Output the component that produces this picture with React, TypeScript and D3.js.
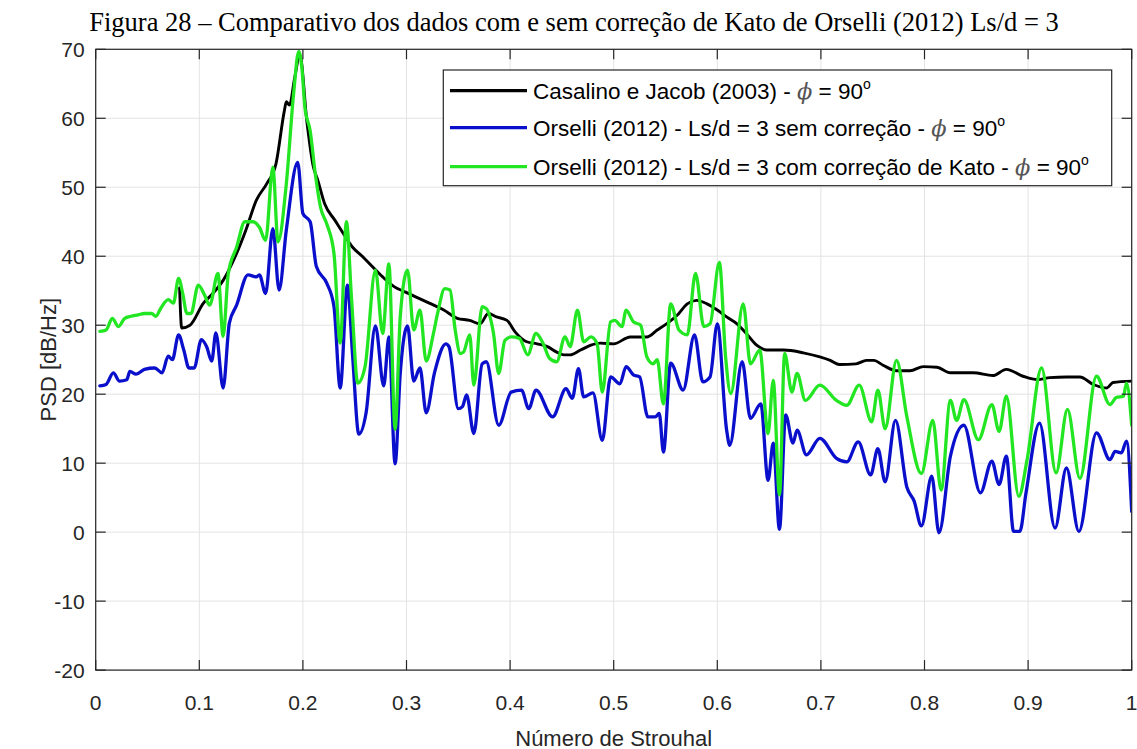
import React from "react";
import * as d3 from "d3";

// Casalino e Jacob (2003) - phi = 90°
const casalino: [number, number][] = [
  [0.081, 35.4], [0.083, 29.6], [0.091, 30.0], [0.104, 33.2], [0.113, 34.6], [0.123, 36.5],
  [0.136, 40.4], [0.145, 43.8], [0.155, 48.1], [0.165, 50.5], [0.174, 53.4], [0.182, 61.0],
  [0.184, 62.4], [0.187, 61.9], [0.192, 65.8], [0.197, 69.2], [0.204, 59.3], [0.210, 53.0],
  [0.214, 51.2], [0.221, 47.6], [0.231, 45.2], [0.239, 43.3], [0.248, 41.3], [0.258, 39.9],
  [0.267, 38.5], [0.277, 37.0], [0.288, 35.6], [0.299, 34.8], [0.312, 33.9], [0.322, 33.2],
  [0.336, 32.2], [0.349, 31.0], [0.361, 30.7], [0.371, 30.2], [0.379, 31.7], [0.387, 31.2],
  [0.397, 30.7], [0.405, 29.0], [0.416, 27.6], [0.426, 27.3], [0.436, 26.9], [0.445, 26.1],
  [0.452, 25.7], [0.458, 25.7], [0.468, 26.4], [0.478, 27.1], [0.487, 27.4], [0.500, 27.3],
  [0.516, 28.3], [0.532, 28.3], [0.542, 29.3], [0.551, 30.2], [0.561, 31.4], [0.571, 33.1],
  [0.580, 33.6], [0.590, 33.1], [0.600, 32.2], [0.609, 31.2], [0.619, 30.2], [0.628, 28.8],
  [0.638, 27.1], [0.648, 26.4], [0.664, 26.4], [0.683, 26.0], [0.699, 25.4], [0.709, 24.9],
  [0.718, 24.3], [0.734, 24.4], [0.744, 24.9], [0.751, 24.9], [0.760, 24.2], [0.773, 23.4],
  [0.786, 23.4], [0.799, 24.0], [0.812, 23.9], [0.825, 23.1], [0.834, 23.1], [0.847, 23.1],
  [0.866, 22.7], [0.879, 23.6], [0.895, 22.6], [0.909, 22.1], [0.921, 22.4], [0.937, 22.5],
  [0.950, 22.5], [0.963, 21.4], [0.976, 20.9], [0.982, 21.7], [1.000, 21.9],
];

// Orselli (2012) - Ls/d = 3 sem correção
const semCorrecao: [number, number][] = [
  [0.004, 21.2], [0.010, 21.4], [0.017, 23.1], [0.023, 21.9], [0.030, 22.1], [0.033, 23.3],
  [0.039, 22.9], [0.047, 23.6], [0.057, 23.8], [0.064, 23.1], [0.070, 25.5], [0.074, 25.0],
  [0.080, 28.6], [0.085, 26.4], [0.090, 23.8], [0.095, 23.8], [0.102, 27.9], [0.107, 26.9],
  [0.112, 24.8], [0.116, 28.9], [0.123, 20.9], [0.129, 30.3], [0.136, 32.9], [0.147, 37.3],
  [0.155, 37.0], [0.158, 37.3], [0.164, 34.6], [0.171, 44.0], [0.177, 35.1], [0.184, 43.8],
  [0.195, 53.6], [0.200, 46.2], [0.207, 45.0], [0.213, 38.5], [0.223, 36.1], [0.230, 32.7],
  [0.236, 20.9], [0.243, 35.8], [0.248, 25.5], [0.254, 14.2], [0.261, 17.3], [0.270, 29.9],
  [0.278, 21.2], [0.283, 28.3], [0.289, 9.9], [0.294, 23.1], [0.301, 29.9], [0.307, 21.9],
  [0.313, 23.8], [0.319, 17.3], [0.327, 23.1], [0.338, 27.3], [0.341, 26.9], [0.350, 17.9],
  [0.354, 18.2], [0.358, 19.9], [0.365, 14.3], [0.373, 24.4], [0.377, 24.7], [0.389, 15.5],
  [0.401, 20.3], [0.411, 20.6], [0.418, 17.9], [0.425, 20.6], [0.441, 16.7], [0.454, 20.8],
  [0.460, 19.4], [0.466, 23.7], [0.471, 19.6], [0.480, 20.2], [0.489, 13.3], [0.497, 22.5],
  [0.506, 21.5], [0.512, 24.0], [0.519, 22.8], [0.525, 22.5], [0.533, 16.7], [0.540, 16.7],
  [0.544, 17.2], [0.548, 11.6], [0.555, 24.5], [0.567, 20.6], [0.578, 28.6], [0.586, 21.8],
  [0.593, 22.5], [0.600, 30.2], [0.609, 14.8], [0.612, 12.6], [0.624, 24.7], [0.632, 16.5],
  [0.642, 18.6], [0.649, 7.5], [0.654, 12.9], [0.660, 0.4], [0.666, 17.0], [0.673, 12.9],
  [0.677, 14.8], [0.686, 11.2], [0.699, 13.6], [0.715, 10.7], [0.725, 10.2], [0.736, 13.1],
  [0.748, 8.3], [0.755, 12.1], [0.762, 7.3], [0.772, 16.2], [0.783, 6.5], [0.790, 4.5],
  [0.797, 0.9], [0.807, 8.1], [0.814, -0.1], [0.825, 11.0], [0.838, 15.5], [0.854, 5.7],
  [0.865, 10.3], [0.872, 6.9], [0.879, 11.0], [0.886, 0.1], [0.892, 0.1], [0.898, 5.7],
  [0.911, 15.8], [0.926, 0.6], [0.937, 9.3], [0.949, 0.1], [0.966, 14.4], [0.979, 10.5],
  [0.984, 11.7], [0.990, 11.5], [0.995, 13.2], [1.000, 3.0],
];

// Orselli (2012) - Ls/d = 3 com correção de Kato
const comCorrecao: [number, number][] = [
  [0.004, 29.1], [0.010, 29.3], [0.016, 31.0], [0.022, 29.8], [0.028, 31.0], [0.034, 31.3],
  [0.041, 31.5], [0.047, 31.7], [0.054, 31.7], [0.058, 31.3], [0.063, 32.5], [0.070, 33.7],
  [0.075, 33.2], [0.080, 36.8], [0.084, 34.6], [0.088, 31.7], [0.092, 31.7], [0.099, 35.8],
  [0.105, 34.4], [0.110, 32.9], [0.118, 37.5], [0.123, 28.4], [0.128, 37.5], [0.136, 41.3],
  [0.144, 45.0], [0.152, 45.0], [0.158, 44.2], [0.164, 42.3], [0.171, 52.9], [0.176, 42.1],
  [0.184, 50.5], [0.191, 63.5], [0.196, 69.7], [0.199, 67.3], [0.202, 61.5], [0.207, 58.2],
  [0.212, 51.9], [0.217, 47.1], [0.223, 44.7], [0.230, 40.4], [0.236, 27.4], [0.242, 45.0],
  [0.247, 33.7], [0.253, 21.6], [0.260, 24.0], [0.270, 38.0], [0.277, 28.8], [0.283, 38.9],
  [0.289, 14.9], [0.294, 31.3], [0.301, 38.0], [0.307, 29.3], [0.313, 32.2], [0.319, 24.8],
  [0.326, 28.8], [0.330, 31.7], [0.337, 35.3], [0.342, 35.1], [0.347, 29.3], [0.352, 25.9],
  [0.355, 26.1], [0.361, 28.6], [0.365, 21.3], [0.373, 32.7], [0.377, 32.4], [0.384, 28.8],
  [0.389, 23.0], [0.395, 27.8], [0.401, 28.3], [0.409, 28.1], [0.417, 25.7], [0.425, 28.8],
  [0.432, 27.3], [0.438, 25.2], [0.445, 24.7], [0.453, 28.3], [0.458, 26.9], [0.465, 32.2],
  [0.471, 27.6], [0.478, 28.3], [0.484, 27.3], [0.489, 20.3], [0.497, 30.5], [0.501, 30.7],
  [0.508, 29.8], [0.512, 32.2], [0.519, 30.5], [0.526, 30.0], [0.532, 25.4], [0.538, 24.4],
  [0.542, 25.0], [0.548, 18.6], [0.555, 33.1], [0.563, 29.3], [0.571, 28.6], [0.579, 37.5],
  [0.587, 29.8], [0.593, 30.2], [0.602, 39.1], [0.608, 25.4], [0.613, 20.1], [0.625, 33.1],
  [0.632, 24.4], [0.641, 26.4], [0.649, 14.3], [0.654, 22.0], [0.660, 5.4], [0.665, 25.9],
  [0.672, 20.3], [0.677, 23.0], [0.685, 19.1], [0.699, 21.3], [0.715, 19.1], [0.725, 18.4],
  [0.737, 21.3], [0.749, 16.0], [0.755, 20.6], [0.762, 15.0], [0.773, 24.9], [0.783, 16.7],
  [0.797, 8.5], [0.808, 16.2], [0.816, 6.1], [0.825, 19.1], [0.831, 16.2], [0.838, 19.2],
  [0.852, 13.4], [0.865, 18.5], [0.872, 14.6], [0.879, 19.7], [0.891, 5.2], [0.899, 10.5],
  [0.913, 23.8], [0.927, 8.6], [0.938, 17.8], [0.950, 7.8], [0.966, 22.6], [0.979, 18.5],
  [0.985, 19.5], [0.992, 19.7], [0.995, 21.6], [1.000, 15.5],
];

const xTicks = [0, 0.1, 0.2, 0.3, 0.4, 0.5, 0.6, 0.7, 0.8, 0.9, 1];
const yTicks = [-20, -10, 0, 10, 20, 30, 40, 50, 60, 70];
const xTickLabels = ["0", "0.1", "0.2", "0.3", "0.4", "0.5", "0.6", "0.7", "0.8", "0.9", "1"];

const legendNames = [
  "Casalino e Jacob (2003) - ",
  "Orselli (2012) - Ls/d = 3 sem correção - ",
  "Orselli (2012) - Ls/d = 3 com correção de Kato - ",
];
const seriesColors = ["#000000", "#0a0fcc", "#22e622"];

const W = 1137;
const H = 749;
const left = 95.7;
const right = 1131.7;
const top = 49.3;
const bottom = 670.1;
const axisColor = "#262626";
const sans = "'Liberation Sans', Arial, Helvetica, sans-serif";

export default function App() {
  const x = d3.scaleLinear().domain([0, 1]).range([left, right]);
  const y = d3.scaleLinear().domain([-20, 70]).range([bottom, top]);
  const line = d3
    .line<[number, number]>()
    .x((d) => x(d[0]))
    .y((d) => y(d[1]))
    .curve(d3.curveMonotoneX);

  const series = [casalino, semCorrecao, comCorrecao];
  const widths = [2.9, 3.3, 3.3];
  const legendRows = [90.7, 127.7, 166.7];

  return (
    <svg
      width={W}
      height={H}
      viewBox={`0 0 ${W} ${H}`}
      style={{ position: "absolute", left: 0, top: 0, background: "#fff" }}
    >
      <rect x={0} y={0} width={W} height={H} fill="#fff" />
      <text
        x={574}
        y={31}
        textAnchor="middle"
        fontFamily="'Liberation Serif', 'Times New Roman', serif"
        fontSize={26.5}
        fill="#000"
      >
        Figura 28 – Comparativo dos dados com e sem correção de Kato de Orselli (2012) Ls/d = 3
      </text>

      {/* grid */}
      <g stroke="#e3e3e3" strokeWidth={1}>
        {xTicks.map((t) => (
          <line key={"gx" + t} x1={x(t)} x2={x(t)} y1={top} y2={bottom} />
        ))}
        {yTicks.map((t) => (
          <line key={"gy" + t} x1={left} x2={right} y1={y(t)} y2={y(t)} />
        ))}
      </g>

      {/* data */}
      <defs>
        <clipPath id="plotClip">
          <rect x={left} y={top - 2} width={right - left} height={bottom - top + 2} />
        </clipPath>
      </defs>
      <g clipPath="url(#plotClip)" fill="none" strokeLinejoin="round" strokeLinecap="round">
        {series.map((s, i) => (
          <path key={i} d={line(s) || ""} stroke={seriesColors[i]} strokeWidth={widths[i]} />
        ))}
      </g>

      {/* axes box and ticks */}
      <g stroke={axisColor} strokeWidth={1.2} fill="none">
        <rect x={left} y={top} width={right - left} height={bottom - top} />
        {xTicks.map((t) => (
          <g key={"tx" + t}>
            <line x1={x(t)} x2={x(t)} y1={bottom} y2={bottom - 10} />
            <line x1={x(t)} x2={x(t)} y1={top} y2={top + 10} />
          </g>
        ))}
        {yTicks.map((t) => (
          <g key={"ty" + t}>
            <line x1={left} x2={left + 10} y1={y(t)} y2={y(t)} />
            <line x1={right} x2={right - 10} y1={y(t)} y2={y(t)} />
          </g>
        ))}
      </g>

      <g fontFamily={sans} fontSize={21} fill={axisColor}>
        {xTicks.map((t, i) => (
          <text key={"lx" + t} x={x(t)} y={702} textAnchor="middle" dominantBaseline="central">
            {xTickLabels[i]}
          </text>
        ))}
        {yTicks.map((t) => (
          <text key={"ly" + t} x={left - 11} y={y(t)} textAnchor="end" dominantBaseline="central">
            {t}
          </text>
        ))}
        <text x={(left + right) / 2} y={738} textAnchor="middle" dominantBaseline="central" fontSize={22}>
          Número de Strouhal
        </text>
        <text
          transform={`translate(48, ${(top + bottom) / 2}) rotate(-90)`}
          textAnchor="middle"
          dominantBaseline="central"
          fontSize={22}
        >
          PSD [dB/Hz]
        </text>
      </g>

      {/* legend */}
      <g>
        <rect x={443.3} y={70} width={668.4} height={115.7} fill="#fff" stroke={axisColor} strokeWidth={1.2} />
        {legendNames.map((name, i) => (
          <g key={"lg" + i}>
            <line
              x1={450}
              x2={527}
              y1={legendRows[i]}
              y2={legendRows[i]}
              stroke={seriesColors[i]}
              strokeWidth={3.3}
            />
            <text x={533} y={legendRows[i] + 8} fontFamily={sans} fontSize={22.5} fill="#000">
              {name}
              <tspan fontFamily="'DejaVu Serif', serif" fontStyle="italic" fill="#555">
                ϕ
              </tspan>
              {" = 90"}
              <tspan fontSize={14} dy={-10}>
                o
              </tspan>
            </text>
          </g>
        ))}
      </g>
    </svg>
  );
}
